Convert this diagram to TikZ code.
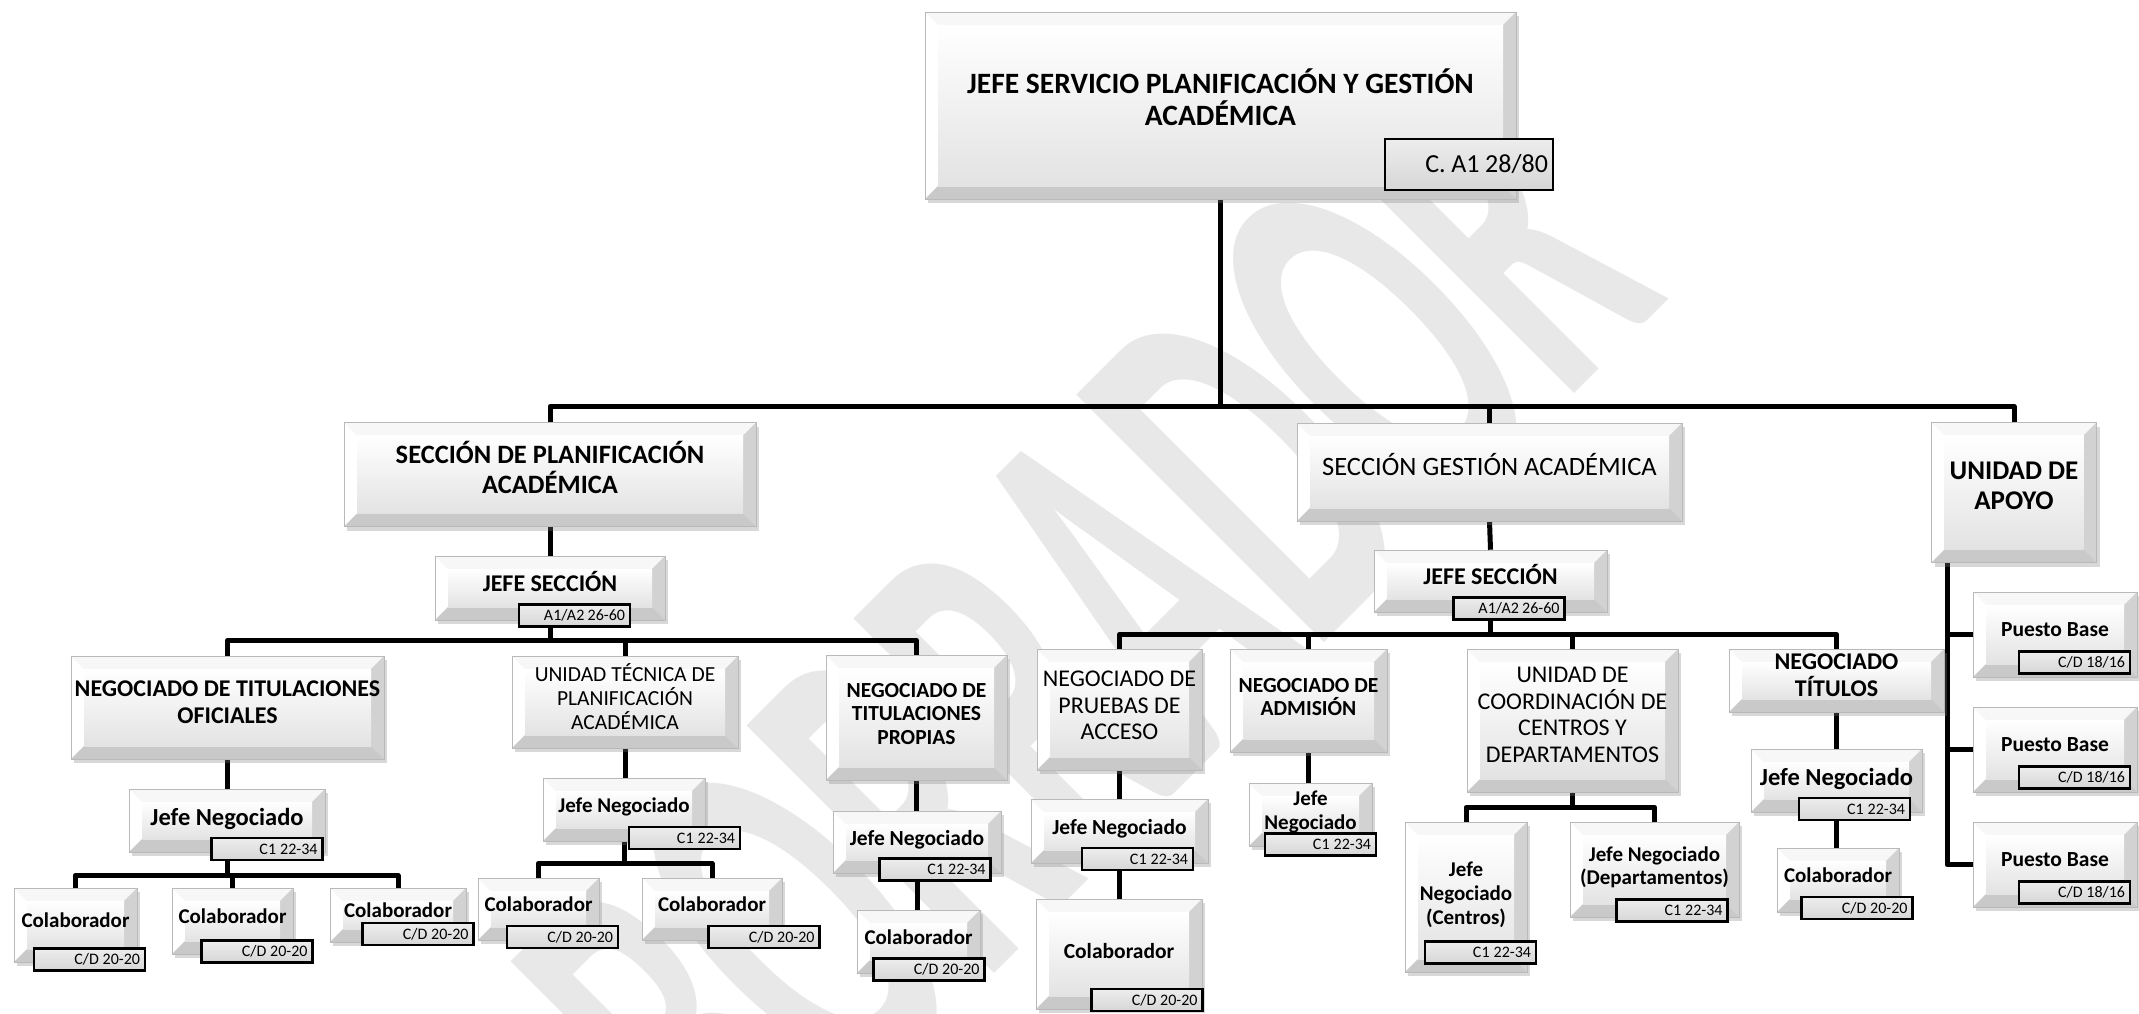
\documentclass[tikz,border=0pt]{standalone}
\usepackage{fontspec}
\setmainfont{Carlito}
\usetikzlibrary{shadows,backgrounds}
\tikzset{
  box/.style={draw=gray!55, line width=0.6pt, fill=gray!20, align=center, inner sep=2pt,
    text depth=11pt,
    drop shadow={shadow xshift=3pt, shadow yshift=-4pt, opacity=.3},
    path picture={
      \path (path picture bounding box.north west) coordinate (bvA)
            (path picture bounding box.north east) coordinate (bvB)
            (path picture bounding box.south east) coordinate (bvC)
            (path picture bounding box.south west) coordinate (bvD)
            ([xshift=13pt,yshift=-13pt]path picture bounding box.north west) coordinate (bva)
            ([xshift=-13pt,yshift=-13pt]path picture bounding box.north east) coordinate (bvb)
            ([xshift=-13pt,yshift=13pt]path picture bounding box.south east) coordinate (bvc)
            ([xshift=13pt,yshift=13pt]path picture bounding box.south west) coordinate (bvd);
      \fill[gray!6] (bvA) -- (bvB) -- (bvb) -- (bva) -- cycle;
      \fill[white] (bvA) -- (bva) -- (bvd) -- (bvD) -- cycle;
      \fill[gray!35] (bvB) -- (bvC) -- (bvc) -- (bvb) -- cycle;
      \fill[gray!42] (bvD) -- (bvC) -- (bvc) -- (bvd) -- cycle;
      \shade[top color=white, bottom color=gray!22] (bva) rectangle (bvc);
    }},
  sz/.style 2 args={minimum width=#1, minimum height=#2},
  txt/.style 2 args={font=\fontsize{#1}{#2}\selectfont},
  btxt/.style 2 args={font=\bfseries\fontsize{#1}{#2}\selectfont},
  tag/.style={draw=black, line width=2.4pt, top color=gray!14, bottom color=gray!32,
    text width=101pt, align=right, inner xsep=5pt, inner ysep=0pt, minimum height=22pt,
    font=\fontsize{16}{18}\selectfont,
    execute at begin node={\frenchspacing\spaceskip=2.7pt plus 1pt\relax}},
  link/.style={line width=5pt, line join=round},
  wmark/.style={text=gray!18, font=\bfseries\fontsize{540}{540}\selectfont, rotate=45, xscale=.5, inner sep=0pt}
}
\begin{document}
\begin{tikzpicture}[x=1pt,y=-1pt]
\useasboundingbox (0,0) rectangle (2139,1013);
% Head of service
\node[box, btxt={29.5}{32}, sz={591pt}{187pt}, text depth=17pt] (jefe) at (1220.5,105.5) {JEFE SERVICIO PLANIFICACIÓN Y GESTIÓN\\ACADÉMICA};
\node[tag, text width=158pt, minimum height=51pt, txt={26}{28},
  execute at begin node={\frenchspacing\spaceskip=5pt plus 1pt\relax}] (jefeTag) at (1469,164.5) {C. A1 28/80};
% Sections
\node[box, btxt={26.5}{30}, sz={412pt}{104pt}, text depth=14pt] (secPlan) at (550,474.5) {SECCIÓN DE PLANIFICACIÓN\\ACADÉMICA};
\node[box, txt={26.5}{30}, sz={385pt}{98pt}, text depth=15pt] (secGest) at (1489.5,472) {SECCIÓN GESTIÓN ACADÉMICA};
\node[box, btxt={27}{30}, sz={165pt}{140pt}, text depth=14pt] (apoyo) at (2014,492.5) {UNIDAD DE\\APOYO};
\node[box, btxt={24}{26}, sz={230pt}{64pt}, text depth=14pt] (jsPlan) at (550,588) {JEFE SECCIÓN};
\node[tag] (jsPlanTag) at (574.5,615.5) {A1/A2 26-60};
\node[box, btxt={24}{26}, sz={233pt}{62pt}, text depth=14pt] (jsGest) at (1490.5,581) {JEFE SECCIÓN};
\node[tag] (jsGestTag) at (1509,608.5) {A1/A2 26-60};
% Units under Sección de Planificación
\node[box, btxt={24}{27}, sz={313pt}{103pt}] (nto) at (227.5,707.5) {NEGOCIADO DE TITULACIONES\\OFICIALES};
\node[box, txt={21.5}{24}, sz={226pt}{92pt}] (utp) at (625,702) {UNIDAD TÉCNICA DE\\PLANIFICACIÓN\\ACADÉMICA};
\node[box, btxt={21.5}{23.5}, sz={181pt}{125pt}, text depth=8pt] (ntp) at (916.5,717.5) {NEGOCIADO DE\\TITULACIONES\\PROPIAS};
% Units under Sección Gestión
\node[box, txt={24}{26.5}, sz={165pt}{121pt}, text depth=8pt] (npa) at (1119.5,709.5) {NEGOCIADO DE\\PRUEBAS DE\\ACCESO};
\node[box, btxt={21.5}{23}, sz={157pt}{103pt}, text depth=8pt] (nad) at (1308.5,700.5) {NEGOCIADO DE\\ADMISIÓN};
\node[box, txt={24}{26.5}, sz={211pt}{143pt}] (ucc) at (1572.5,720.5) {UNIDAD DE\\COORDINACIÓN DE\\CENTROS Y\\DEPARTAMENTOS};
\node[box, btxt={24}{27}, sz={215pt}{63pt}] (ntit) at (1836.5,680.5) {NEGOCIADO\\TÍTULOS};
% Jefes de negociado
\node[box, btxt={24.5}{26}, sz={196pt}{63pt}, text depth=8pt] (ntoJN) at (227,820.5) {Jefe Negociado};
\node[tag] (ntoJNTag) at (267,849) {C1 22-34};
\node[box, btxt={21}{24}, sz={162pt}{63pt}, text depth=8pt] (utpJN) at (624,809.5) {Jefe Negociado};
\node[tag] (utpJNTag) at (684.5,838) {C1 22-34};
\node[box, btxt={21.5}{24}, sz={168pt}{62pt}, text depth=8pt] (ntpJN) at (917,842) {Jefe Negociado};
\node[tag] (ntpJNTag) at (935,869.5) {C1 22-34};
\node[box, btxt={21.5}{24}, sz={177pt}{64pt}, text depth=8pt] (npaJN) at (1119.5,831) {Jefe Negociado};
\node[tag] (npaJNTag) at (1137.5,859) {C1 22-34};
\node[box, btxt={21}{24}, sz={123pt}{63pt}, text depth=8pt] (nadJN) at (1310.5,814.5) {Jefe\\Negociado};
\node[tag] (nadJNTag) at (1320.5,844.5) {C1 22-34};
\node[box, btxt={21}{24}, sz={122pt}{150pt}, text depth=8pt] (uccC) at (1466,897) {Jefe\\Negociado\\(Centros)};
\node[tag] (uccCTag) at (1480.5,952.5) {C1 22-34};
\node[box, btxt={21}{23}, sz={169pt}{95pt}, text depth=8pt] (uccD) at (1654.5,869.5) {Jefe Negociado\\(Departamentos)};
\node[tag] (uccDTag) at (1672,910.5) {C1 22-34};
\node[box, btxt={24.5}{26}, sz={171pt}{63pt}, text depth=8pt] (ntitJN) at (1836.5,780.5) {Jefe Negociado};
\node[tag] (ntitJNTag) at (1854.5,809) {C1 22-34};
% Puestos base
\node[box, btxt={21.5}{24}, sz={164pt}{85pt}, text depth=9pt] (pb1) at (2055,634.5) {Puesto Base};
\node[tag] (pb1Tag) at (2074.5,662.5) {C/D 18/16};
\node[box, btxt={21.5}{24}, sz={164pt}{85pt}, text depth=9pt] (pb2) at (2055,749.5) {Puesto Base};
\node[tag] (pb2Tag) at (2074.5,777.5) {C/D 18/16};
\node[box, btxt={21.5}{24}, sz={164pt}{85pt}, text depth=9pt] (pb3) at (2055,864.5) {Puesto Base};
\node[tag] (pb3Tag) at (2074.5,892.5) {C/D 18/16};
% Colaboradores
\node[box, btxt={21}{24}, sz={123pt}{74pt}, text depth=9pt] (ntoC1) at (75.5,925) {Colaborador};
\node[tag] (ntoC1Tag) at (89.5,959.5) {C/D 20-20};
\node[box, btxt={21}{24}, sz={121pt}{66pt}, text depth=9pt] (ntoC2) at (232.5,921) {Colaborador};
\node[tag] (ntoC2Tag) at (257,951.5) {C/D 20-20};
\node[box, btxt={21}{24}, sz={136pt}{54pt}, text depth=9pt] (ntoC3) at (398,915) {Colaborador};
\node[tag] (ntoC3Tag) at (418,934) {C/D 20-20};
\node[box, btxt={21}{24}, sz={121pt}{62pt}, text depth=9pt] (utpC1) at (538.5,909) {Colaborador};
\node[tag] (utpC1Tag) at (562.5,937) {C/D 20-20};
\node[box, btxt={21}{24}, sz={140pt}{62pt}, text depth=9pt] (utpC2) at (712,909) {Colaborador};
\node[tag] (utpC2Tag) at (764,937) {C/D 20-20};
\node[box, btxt={21}{24}, sz={123pt}{63pt}, text depth=9pt] (ntpC) at (918.5,941.5) {Colaborador};
\node[tag] (ntpCTag) at (929,969.5) {C/D 20-20};
\node[box, btxt={21.5}{24}, sz={166pt}{110pt}, text depth=7pt] (npaC) at (1119,954) {Colaborador};
\node[tag] (npaCTag) at (1147,1000) {C/D 20-20};
\node[box, btxt={21}{24}, sz={122pt}{64pt}, text depth=9pt] (ntitC) at (1838,880) {Colaborador};
\node[tag] (ntitCTag) at (1857,908) {C/D 20-20};
\begin{scope}[on background layer]
% Watermark
\fill[white] (0,0) rectangle (2139,1013);
\node[wmark] (borrador) at (1085,635) {BORRADOR};
% Connectors
\draw[link] (jefe.south) -- ++(0,207) -| (secPlan.north);
\draw[link] (jefe.south) -- ++(0,207) -| (secGest.north);
\draw[link] (jefe.south) -- ++(0,207) -| (apoyo.north);
\draw[link] (secPlan.south) -- (jsPlan.north);
\draw[link] (secGest.south) -- (jsGest.north);
\draw[link] (jsPlan.south) -- ++(0,20) -| (nto.north);
\draw[link] (jsPlan.south) -- ++(0,20) -| (utp.north);
\draw[link] (jsPlan.south) -- ++(0,20) -| (ntp.north);
\draw[link] (jsGest.south) -- ++(0,22) -| (npa.north);
\draw[link] (jsGest.south) -- ++(0,22) -| (nad.north);
\draw[link] (jsGest.south) -- ++(0,22) -| (ucc.north);
\draw[link] (jsGest.south) -- ++(0,22) -| (ntit.north);
\draw[link] ([xshift=-67pt]apoyo.south) |- (pb1.west);
\draw[link] ([xshift=-67pt]apoyo.south) |- (pb2.west);
\draw[link] ([xshift=-67pt]apoyo.south) |- (pb3.west);
\draw[link] (nto.south) -- (nto.south |- ntoJN.north);
\draw[link] (ntoJN.south) -- ++(0,23) -| (ntoC1.north);
\draw[link] (ntoJN.south) -- ++(0,23) -| (ntoC2.north);
\draw[link] (ntoJN.south) -- ++(0,23) -| (ntoC3.north);
\draw[link] (utp.south) -- (utp.south |- utpJN.north);
\draw[link] (utpJN.south) -- ++(0,22) -| (utpC1.north);
\draw[link] (utpJN.south) -- ++(0,22) -| (utpC2.north);
\draw[link] (ntp.south) -- (ntp.south |- ntpJN.north);
\draw[link] (ntpJN.south) -- (ntpJN.south |- ntpC.north);
\draw[link] (npa.south) -- (npa.south |- npaJN.north);
\draw[link] (npaJN.south) -- (npaJN.south |- npaC.north);
\draw[link] (nad.south) -- (nad.south |- nadJN.north);
\draw[link] (ucc.south) -- ++(0,15) -| (uccC.north);
\draw[link] (ucc.south) -- ++(0,15) -| (uccD.north);
\draw[link] (ntit.south) -- (ntit.south |- ntitJN.north);
\draw[link] (ntitJN.south) -- (ntitJN.south |- ntitC.north);
\end{scope}
\end{tikzpicture}
\end{document}
